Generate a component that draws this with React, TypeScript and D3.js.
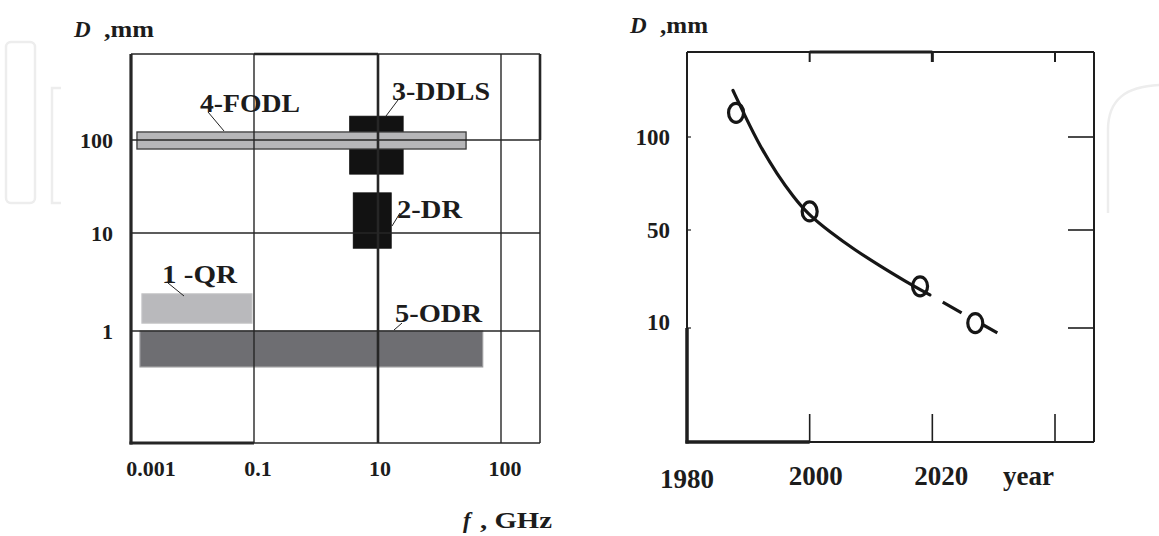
import React from "react";
import * as d3 from "d3";

// ---------- Left chart data ----------
const freqTicks = [0.001, 0.1, 10, 100];
const freqTickLabels = ["0.001", "0.1", "10", "100"];
const diamTicks = [1, 10, 100];
const diamTickLabels = ["1", "10", "100"];

const resonatorNames = ["3-DDLS", "2-DR", "4-FODL", "1 -QR", "5-ODR"];
const resFMin = [3.5, 4.0, 0.00125, 0.0015, 0.0014];
const resFMax = [16, 12.8, 52, 0.093, 71];
const resDMin = [43, 7.0, 80, 1.2, 0.43];
const resDMax = [180, 27, 122, 2.4, 1.0];

// ---------- Right chart data ----------
const yearTicks = [1980, 2000, 2020];
const yearFrameTicks = [2000, 2020, 2040];
const sizeTicks = [100, 50, 10];
const sizeTickLabels = ["100", "50", "10"];

const curveYears = [1987.5, 1989.5, 1991.9, 1994.7, 1997.3, 1999.7, 2003.3, 2007.4, 2011.5, 2015.5, 2019.6];
const curveSizes = [125, 111, 95, 80, 68, 58.6, 49.2, 41.8, 35.3, 29.2, 23.5];
const forecastYears = [2019.6, 2030.6];
const forecastSizes = [23.5, 8];
const pointYears = [1988, 2000, 2018, 2027];
const pointSizes = [113, 60, 27, 12];

// ---------- styles ----------
const FONT = "'Liberation Serif', 'Times New Roman', serif";
const INK = "#1c1c1c";
const resStyle: Record<string, { fill: string; stroke: string; sw: number }> = {
  "3-DDLS": { fill: "#121212", stroke: "#121212", sw: 1 },
  "2-DR": { fill: "#121212", stroke: "#121212", sw: 1 },
  "4-FODL": { fill: "#b6b6b8", stroke: "#3a3a3a", sw: 1.3 },
  "1 -QR": { fill: "#b9b9bc", stroke: "#c8c8ca", sw: 1 },
  "5-ODR": { fill: "#6e6e72", stroke: "#9a9a9c", sw: 1.2 },
};
// label text placement (layout only)
const resLabel: Record<string, { x: number; y: number; w: number; lx1: number; ly1: number; lx2: number; ly2: number }> = {
  "4-FODL": { x: 200, y: 112, w: 100, lx1: 208, ly1: 112, lx2: 224, ly2: 131 },
  "3-DDLS": { x: 392, y: 100, w: 98, lx1: 398, ly1: 100, lx2: 386, ly2: 116 },
  "2-DR": { x: 397, y: 218, w: 65, lx1: 400, ly1: 213, lx2: 392, ly2: 226 },
  "1 -QR": { x: 162, y: 283, w: 75, lx1: 168, ly1: 283, lx2: 184, ly2: 296 },
  "5-ODR": { x: 395, y: 322, w: 87, lx1: 402, ly1: 323, lx2: 394, ly2: 330 },
};

export default function App() {
  // ----- left chart layout -----
  const L = { left: 131, right: 540, top: 54, bottom: 443 };
  const xLog = d3.scaleLinear().domain([-3, -1, 1, 2]).range([131, 254, 378, 501]);
  const yLog = d3.scaleLinear().domain([0, 1, 2]).range([331, 233, 140]);
  const fx = (f: number) => xLog(Math.log10(f));
  const dy = (d: number) => yLog(Math.log10(d));
  const xLabelOffset = [20, 4, 2, 4];

  // ----- right chart layout -----
  const R = { left: 687, right: 1094, top: 52, bottom: 442 };
  const xR = d3.scaleLinear().domain([1980, 2040]).range([687, 1055]);
  const yR = d3.scaleLinear().domain([10, 50, 100]).range([328, 230, 137]);
  const yearLabelOffset = [0, 6, 9];

  const curveLine = d3
    .line<number>()
    .x((_, i) => xR(curveYears[i]))
    .y((d) => yR(d))
    .curve(d3.curveBasis);
  const forecastLine = d3
    .line<number>()
    .x((_, i) => xR(forecastYears[i]))
    .y((d) => yR(d));

  const fLen = Math.hypot(
    xR(forecastYears[1]) - xR(forecastYears[0]),
    yR(forecastSizes[1]) - yR(forecastSizes[0])
  );
  const u = fLen / 77;
  const dash = [0, 14.7 * u, 21.5 * u, 23.8 * u, 17 * u + 5, 200].join(" ");

  const bold = { fontFamily: FONT, fontWeight: 700, fill: INK } as const;

  return (
    <svg
      width={1159}
      height={536}
      style={{ position: "absolute", left: 0, top: 0, background: "#ffffff" }}
    >
      <rect x={0} y={0} width={1159} height={536} fill="#ffffff" />
      {/* faint watermark */}
      <g fill="none" stroke="#ededed" strokeWidth={2.5}>
        <rect x={6} y={42} width={29} height={161} rx={5} />
        <path d="M61 88 H52 V203 H61" />
        <path d="M1108 213 V130 C1108 100 1125 86 1162 85" />
      </g>

      {/* ================= LEFT CHART ================= */}
      <text x={74} y={37} fontSize={23} {...bold} fontStyle="italic">D</text>
      <text x={104} y={37} fontSize={23} {...bold} textLength={50} lengthAdjust="spacingAndGlyphs">,mm</text>

      {/* resonator bars */}
      {resonatorNames.map((n, i) => {
        const s = resStyle[n];
        return (
          <rect
            key={n}
            x={fx(resFMin[i])}
            y={dy(resDMax[i])}
            width={fx(resFMax[i]) - fx(resFMin[i])}
            height={dy(resDMin[i]) - dy(resDMax[i])}
            fill={s.fill}
            stroke={s.stroke}
            strokeWidth={s.sw}
          />
        );
      })}

      {/* grid lines */}
      <g stroke="#262626">
        {diamTicks.map((d) => (
          <line key={"h" + d} x1={L.left} x2={L.right} y1={dy(d)} y2={dy(d)} strokeWidth={1.4} />
        ))}
        {freqTicks.slice(1).map((f) => (
          <line key={"v" + f} x1={fx(f)} x2={fx(f)} y1={L.top} y2={L.bottom} strokeWidth={f === 10 ? 2.6 : 1.4} />
        ))}
        {/* frame */}
        <line x1={L.left} x2={L.right} y1={L.top} y2={L.top} strokeWidth={1.5} />
        <line x1={fx(0.1)} x2={fx(10)} y1={L.top} y2={L.top} strokeWidth={2.6} />
        <line x1={L.right} x2={L.right} y1={L.top} y2={L.bottom} strokeWidth={1.5} />
        <line x1={L.right} x2={L.right} y1={L.top} y2={dy(100)} strokeWidth={2.6} />
        <line x1={L.left} x2={L.right} y1={L.bottom} y2={L.bottom} strokeWidth={1.6} />
        <line x1={L.left - 1.5} x2={fx(0.1)} y1={L.bottom} y2={L.bottom} strokeWidth={3.2} />
        <line x1={L.left} x2={L.left} y1={L.top} y2={L.bottom + 1.5} strokeWidth={3.2} />
      </g>

      {/* leader lines and labels */}
      {resonatorNames.map((n) => {
        const p = resLabel[n];
        return (
          <g key={"lab" + n}>
            <line x1={p.lx1} y1={p.ly1} x2={p.lx2} y2={p.ly2} stroke="#222" strokeWidth={1} />
            <text x={p.x} y={p.y} fontSize={25} {...bold} textLength={p.w} lengthAdjust="spacingAndGlyphs">
              {n}
            </text>
          </g>
        );
      })}

      {/* axis tick labels */}
      {freqTicks.map((f, i) => (
        <text key={"xt" + f} x={fx(f) + xLabelOffset[i]} y={476} fontSize={22} textAnchor="middle" {...bold}>
          {freqTickLabels[i]}
        </text>
      ))}
      {diamTicks.map((d, i) => (
        <text key={"yt" + d} x={113} y={dy(d) + 8} fontSize={22} textAnchor="end" {...bold}>
          {diamTickLabels[i]}
        </text>
      ))}
      <text x={463} y={528} fontSize={23} {...bold} fontStyle="italic">f</text>
      <text x={480} y={528} fontSize={23} {...bold} textLength={72} lengthAdjust="spacingAndGlyphs">, GHz</text>

      {/* ================= RIGHT CHART ================= */}
      <text x={630} y={33} fontSize={23} {...bold} fontStyle="italic">D</text>
      <text x={660} y={33} fontSize={23} {...bold} textLength={48} lengthAdjust="spacingAndGlyphs">,mm</text>

      <g stroke="#1e1e1e" fill="none">
        <line x1={R.left} x2={R.right} y1={R.top} y2={R.top} strokeWidth={1.8} />
        <line x1={xR(2000)} x2={xR(2020)} y1={R.top} y2={R.top} strokeWidth={3} />
        <line x1={R.right} x2={R.right} y1={R.top} y2={R.bottom} strokeWidth={2} />
        <line x1={R.left} x2={R.right} y1={R.bottom} y2={R.bottom} strokeWidth={2} />
        <line x1={R.left - 1.5} x2={xR(2000)} y1={R.bottom} y2={R.bottom} strokeWidth={3.5} />
        <line x1={R.left} x2={R.left} y1={R.top} y2={R.bottom} strokeWidth={2} />
        <line x1={R.left} x2={R.left} y1={yR(10)} y2={R.bottom + 1.5} strokeWidth={3.5} />
        {yearFrameTicks.map((y) => (
          <g key={"yt" + y}>
            <line x1={xR(y)} x2={xR(y)} y1={R.top} y2={R.top + 10} strokeWidth={y === 2020 ? 3 : 2} />
            <line x1={xR(y)} x2={xR(y)} y1={R.bottom} y2={R.bottom - 28} strokeWidth={1.6} />
          </g>
        ))}
        {sizeTicks.map((s) => (
          <g key={"st" + s}>
            <line x1={R.right - 26} x2={R.right} y1={yR(s)} y2={yR(s)} strokeWidth={1.6} />
            <line x1={R.left} x2={R.left + 4} y1={yR(s)} y2={yR(s)} strokeWidth={1.2} />
          </g>
        ))}
      </g>

      {sizeTicks.map((s, i) => (
        <text key={"sl" + s} x={670} y={yR(s) + (s === 10 ? 2 : 8)} fontSize={23} textAnchor="end" {...bold}>
          {sizeTickLabels[i]}
        </text>
      ))}
      {yearTicks.map((y, i) => (
        <text key={"yl" + y} x={xR(y) + yearLabelOffset[i]} y={y === 1980 ? 488 : 485} fontSize={27} textAnchor="middle" {...bold}>
          {y}
        </text>
      ))}
      <text x={xR(2040) - 1} y={485} fontSize={27} textAnchor="end" {...bold}>year</text>

      {/* trend curve */}
      <path d={curveLine(curveSizes) || ""} fill="none" stroke="#161616" strokeWidth={3.2} strokeLinecap="round" />
      <path d={forecastLine(forecastSizes) || ""} fill="none" stroke="#161616" strokeWidth={3.2} strokeDasharray={dash} />
      {pointYears.map((y, i) => (
        <ellipse
          key={"pt" + y}
          cx={xR(y)}
          cy={yR(pointSizes[i])}
          rx={7.5}
          ry={9.5}
          fill="none"
          stroke="#161616"
          strokeWidth={3.2}
        />
      ))}
    </svg>
  );
}
